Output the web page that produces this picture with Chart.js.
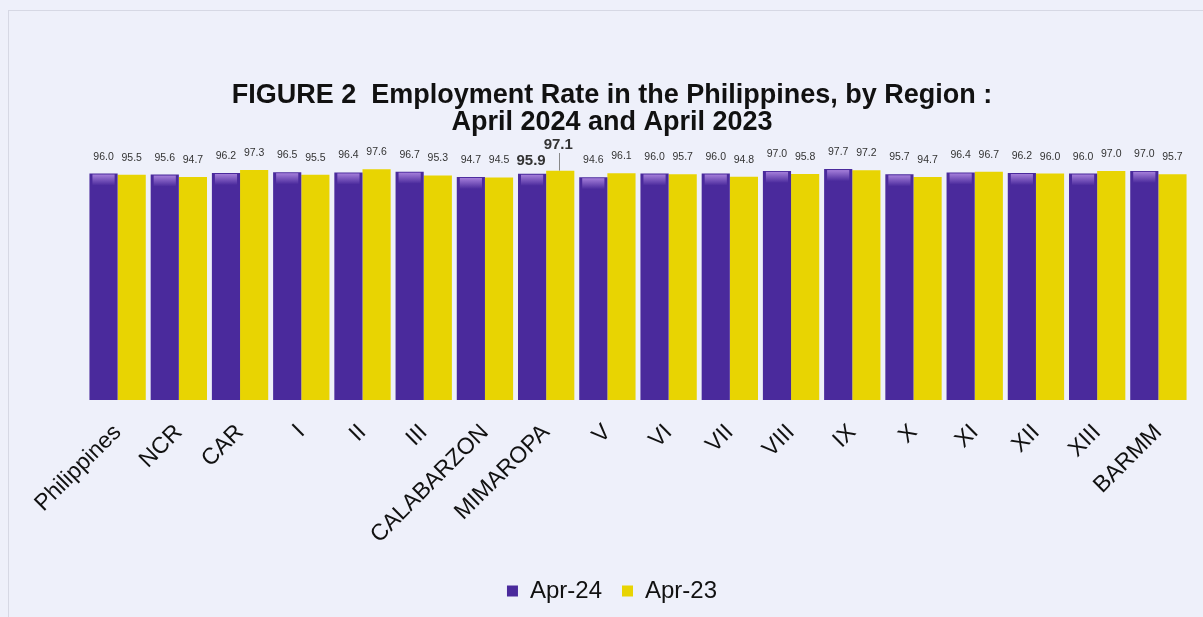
<!DOCTYPE html>
<html>
<head>
<meta charset="utf-8">
<script src="https://cdn.jsdelivr.net/npm/chart.js@4/dist/chart.umd.min.js"></script>
<style>
  html, body { margin: 0; padding: 0; background: #eef0fa; }
  #wrap { width: 1203px; height: 617px; }
</style>
</head>
<body>
<div id="wrap"><canvas id="emp-chart" width="1203" height="617"></canvas></div>
<script>
var regions = ['Philippines', 'NCR', 'CAR', 'I', 'II', 'III', 'CALABARZON', 'MIMAROPA', 'V', 'VI',
  'VII', 'VIII', 'IX', 'X', 'XI', 'XII', 'XIII', 'BARMM'];
var apr24 = [96.0, 95.6, 96.2, 96.5, 96.4, 96.7, 94.7, 95.9, 94.6, 96.0, 96.0, 97.0, 97.7, 95.7, 96.4, 96.2, 96.0, 97.0];
var apr23 = [95.5, 94.7, 97.3, 95.5, 97.6, 95.3, 94.5, 97.1, 96.1, 95.7, 94.8, 95.8, 97.2, 94.7, 96.7, 96.0, 97.0, 95.7];
var seriesNames = ['Apr-24', 'Apr-23'];
var highlight = 'MIMAROPA';

var FONT = '"Liberation Sans", Arial, sans-serif';

// background + frame
var bgPlugin = {
  id: 'bg',
  beforeDraw: function(chart) {
    var c = chart.ctx;
    c.save();
    c.fillStyle = '#eef0fa';
    c.fillRect(0, 0, chart.width, chart.height);
    c.strokeStyle = '#d6d8e4';
    c.lineWidth = 1;
    c.strokeRect(8.5, 10.5, chart.width - 4, chart.height);
    c.restore();
  }
};

// value labels above the bars
var valuePlugin = {
  id: 'values',
  afterDatasetsDraw: function(chart) {
    var c = chart.ctx;
    c.save();
    c.textAlign = 'center';
    c.textBaseline = 'alphabetic';
    c.fillStyle = '#333';
    chart.data.datasets.forEach(function(ds, di) {
      var meta = chart.getDatasetMeta(di);
      meta.data.forEach(function(bar, i) {
        var txt = ds.data[i].toFixed(1);
        if (regions[i] === highlight) {
          c.font = 'bold 15px ' + FONT;
          if (di === 0) {
            c.fillText(txt, bar.x - 1, bar.y - 9);
          } else {
            c.fillText(txt, bar.x - 2, 149);
            c.strokeStyle = '#888';
            c.lineWidth = 1;
            c.beginPath();
            c.moveTo(Math.round(bar.x) - 0.5, 153);
            c.lineTo(Math.round(bar.x) - 0.5, bar.y);
            c.stroke();
          }
        } else {
          c.font = '10.5px ' + FONT;
          c.fillText(txt, bar.x, bar.y - 14);
        }
      });
    });
    c.restore();
  }
};

// lighter bevel at the top of each purple bar
var bevelPlugin = {
  id: 'bevel',
  afterDatasetsDraw: function(chart) {
    var c = chart.ctx;
    var meta = chart.getDatasetMeta(0);
    c.save();
    meta.data.forEach(function(bar) {
      var w = bar.width;
      var g = c.createLinearGradient(0, bar.y, 0, bar.y + 12);
      g.addColorStop(0, 'rgba(190,150,235,0.85)');
      g.addColorStop(1, 'rgba(190,150,235,0)');
      c.fillStyle = g;
      c.fillRect(bar.x - w / 2 + 3, bar.y + 1, w - 6, 11);
    });
    c.restore();
  }
};

var ctx = document.getElementById('emp-chart').getContext('2d');
var chart = new Chart(ctx, {
  type: 'bar',
  data: {
    labels: regions,
    datasets: [{
      label: seriesNames[0],
      data: apr24,
      backgroundColor: '#4a2a9c',
      borderWidth: 0,
      categoryPercentage: 0.92,
      barPercentage: 1.0
    }, {
      label: seriesNames[1],
      data: apr23,
      backgroundColor: '#e8d402',
      borderWidth: 0,
      categoryPercentage: 0.92,
      barPercentage: 1.0
    }]
  },
  options: {
    responsive: false,
    animation: false,
    layout: { padding: { left: 35, right: 14, top: 0, bottom: 4 } },
    plugins: {
      title: {
        display: true,
        text: ['FIGURE 2  Employment Rate in the Philippines, by Region :', 'April 2024 and April 2023'],
        color: '#111',
        font: { family: FONT, size: 27, weight: 'bold', lineHeight: 1.0 },
        padding: { top: 82, bottom: 27 }
      },
      legend: {
        position: 'bottom',
        labels: {
          color: '#111',
          boxWidth: 11,
          boxHeight: 11,
          font: { family: FONT, size: 24 },
          padding: 20
        }
      },
      tooltip: { enabled: false }
    },
    scales: {
      x: {
        grid: { display: false, drawTicks: false },
        border: { display: false },
        ticks: {
          color: '#111',
          font: { family: FONT, size: 23 },
          minRotation: 45,
          maxRotation: 45,
          padding: 19
        },
        afterFit: function(scale) { scale.height = 159; }
      },
      y: {
        min: 10,
        max: 100,
        grid: { display: false, drawTicks: false },
        border: { display: false },
        ticks: { display: false },
        afterFit: function(scale) { scale.width = 52; }
      }
    }
  },
  plugins: [bgPlugin, bevelPlugin, valuePlugin]
});
</script>
</body>
</html>
